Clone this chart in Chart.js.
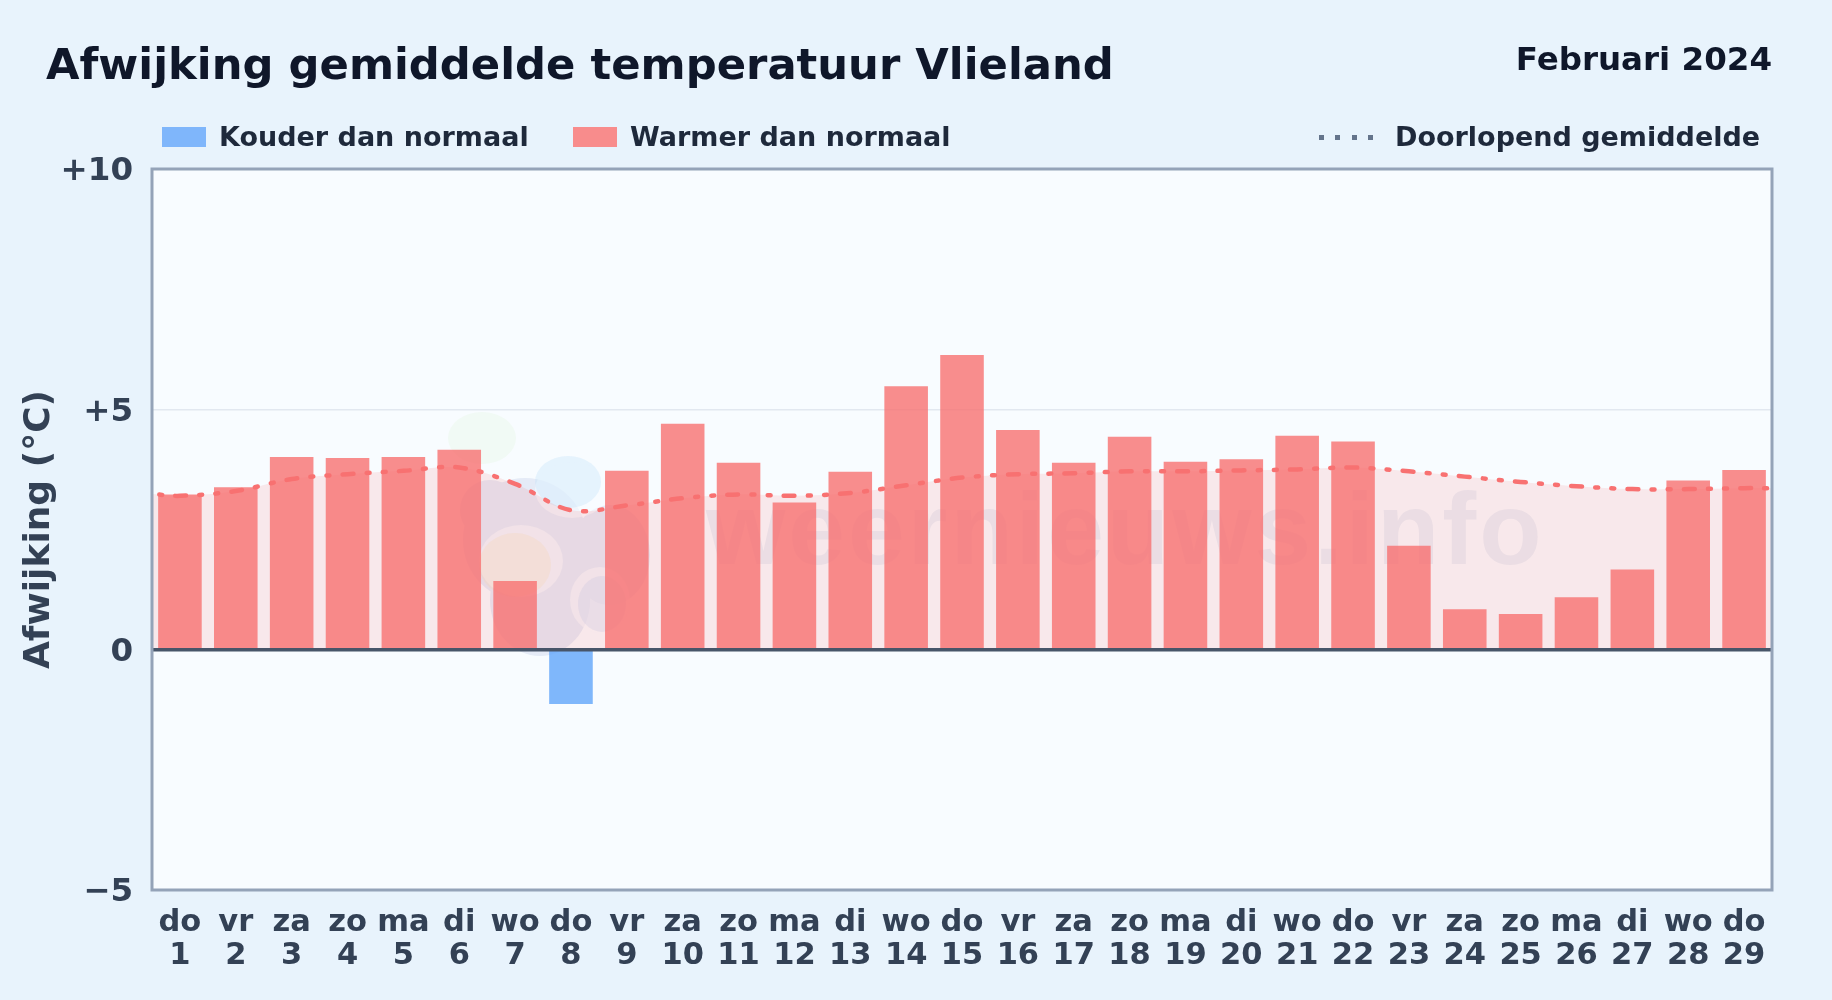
<!DOCTYPE html>
<html>
<head>
<meta charset="utf-8">
<script src="https://cdn.jsdelivr.net/npm/chart.js@4"></script>
<style>
  html, body { margin: 0; padding: 0; }
  body {
    width: 1832px; height: 1000px; position: relative; overflow: hidden;
    background: #e8f3fc;
    font-family: "DejaVu Sans", sans-serif; font-weight: bold;
  }
  #title { position: absolute; left: 46px; top: 39px; font-size: 43.3px; color: #0f172a; white-space: nowrap; }
  #period { position: absolute; right: 60px; top: 40px; font-size: 32.5px; color: #0f172a; white-space: nowrap; }
  .leg { position: absolute; top: 121px; font-size: 27px; line-height: 32px; color: #1e293b; white-space: nowrap; }
  .swatch { position: absolute; top: 6px; left: -57px; width: 44px; height: 20px; }
  .dots {
    position: absolute; top: 14px; left: -76px; width: 56px; height: 5px;
    background: repeating-linear-gradient(90deg, #64748b 0 5px, transparent 5px 16.5px);
  }
  #chart-wrap { position: absolute; left: 0; top: 0; width: 1832px; height: 1000px; }
</style>
</head>
<body>
<div id="chart-wrap"><canvas id="chart"></canvas></div>
<div id="title">Afwijking gemiddelde temperatuur Vlieland</div>
<div id="period">Februari 2024</div>
<div class="leg" style="left:219px"><span class="swatch" style="background:#7fb6fb"></span>Kouder dan normaal</div>
<div class="leg" style="left:630px"><span class="swatch" style="background:#f88c8c"></span>Warmer dan normaal</div>
<div class="leg" style="left:1395px"><span class="dots"></span>Doorlopend gemiddelde</div>
<script>
const weekdays = ['do','vr','za','zo','ma','di','wo','do','vr','za','zo','ma','di','wo','do','vr','za','zo','ma','di','wo','do','vr','za','zo','ma','di','wo','do'];
const days = [1,2,3,4,5,6,7,8,9,10,11,12,13,14,15,16,17,18,19,20,21,22,23,24,25,26,27,28,29];
const anomaly = [3.23,3.38,4.01,3.99,4.01,4.16,1.43,-1.13,3.72,4.70,3.89,3.06,3.70,5.48,6.13,4.57,3.89,4.43,3.91,3.96,4.45,4.33,2.16,0.84,0.74,1.09,1.67,3.52,3.74];
// running mean runs edge to edge of the plot, so it gets its own x positions
const meanX = [0.5,1,2,3,4,5,6,7,8,9,10,11,12,13,14,15,16,17,18,19,20,21,22,23,24,25,26,27,28,29,29.5];
const meanY = [3.24,3.2,3.3,3.55,3.65,3.72,3.79,3.45,2.9,3.0,3.15,3.23,3.2,3.26,3.42,3.58,3.65,3.67,3.71,3.71,3.73,3.75,3.79,3.71,3.6,3.49,3.4,3.34,3.34,3.36,3.36];
const yTicks = [-5,0,5,10];

const RED = 'rgba(248,113,113,0.8)';
const BLUE = 'rgba(96,165,250,0.8)';

const meanPoints = meanX.map((x, i) => ({ x, y: meanY[i] }));

// logo blobs of the watermark, in page pixels
function blob(ctx, color, shapes) {
  ctx.fillStyle = color;
  ctx.beginPath();
  for (const [x, y, rx, ry] of shapes) {
    ctx.moveTo(x + rx, y);
    ctx.ellipse(x, y, rx, ry, 0, 0, Math.PI * 2);
  }
  ctx.fill();
}

// plot background and watermark go under the datasets, zero line and border on top
const backdrop = {
  id: 'backdrop',
  beforeDraw(chart) {
    const { ctx, chartArea: a } = chart;
    ctx.save();
    ctx.fillStyle = '#f8fcff';
    ctx.fillRect(a.left, a.top, a.width, a.height);
    ctx.restore();
  },
  beforeDatasetsDraw(chart) {
    const { ctx } = chart;
    ctx.save();
    blob(ctx, 'rgba(100,125,190,0.13)', [[525,540,62,62],[540,600,50,56],[610,555,40,50],[490,510,30,30]]);
    blob(ctx, 'rgba(248,252,255,0.6)', [[521,561,42,36],[600,600,30,33],[572,490,37,28]]);
    blob(ctx, 'rgba(195,235,170,0.12)', [[482,438,34,26]]);
    blob(ctx, 'rgba(190,225,250,0.32)', [[568,482,33,26]]);
    blob(ctx, 'rgba(250,225,170,0.22)', [[515,565,36,32]]);
    blob(ctx, 'rgba(170,190,235,0.2)', [[602,604,24,28]]);
    ctx.fillStyle = 'rgba(60,90,150,0.08)';
    ctx.font = 'bold 102px "Liberation Sans", sans-serif';
    ctx.letterSpacing = '3px';
    ctx.textBaseline = 'alphabetic';
    ctx.textAlign = 'left';
    ctx.fillText('weernieuws.info', 706, 564);
    ctx.restore();
  },
  afterDatasetsDraw(chart) {
    const { ctx, chartArea: a, scales } = chart;
    const y0 = scales.y.getPixelForValue(0);
    ctx.save();
    ctx.strokeStyle = '#475569';
    ctx.lineWidth = 3.5;
    ctx.beginPath();
    ctx.moveTo(a.left, y0);
    ctx.lineTo(a.right, y0);
    ctx.stroke();
    ctx.strokeStyle = '#94a3b8';
    ctx.lineWidth = 3;
    ctx.strokeRect(a.left, a.top, a.width, a.height);
    ctx.restore();
  },
};

new Chart(document.getElementById('chart'), {
  type: 'bar',
  data: {
    labels: days.map((d, i) => [weekdays[i], String(d)]),
    datasets: [
      {
        type: 'line',
        xAxisID: 'xMean',
        data: meanPoints,
        borderWidth: 0,
        backgroundColor: 'rgba(248,113,113,0.14)',
        fill: 'origin',
        pointRadius: 0,
        tension: 0.35,
        order: 3,
      },
      {
        data: anomaly,
        backgroundColor: anomaly.map(v => v < 0 ? BLUE : RED),
        borderWidth: 0,
        barPercentage: 0.78,
        categoryPercentage: 1,
        grouped: false,
        order: 2,
      },
      {
        type: 'line',
        xAxisID: 'xMean',
        data: meanPoints,
        borderColor: '#f87171',
        borderWidth: 4.5,
        borderCapStyle: 'round',
        borderDash: [10.5, 13.2, 3, 13.5, 3, 13.2],
        borderDashOffset: 33,
        fill: false,
        pointRadius: 0,
        tension: 0.35,
        order: 1,
      },
    ],
  },
  options: {
    responsive: true,
    maintainAspectRatio: false,
    animation: false,
    layout: { padding: { left: 0, right: 60, top: 169, bottom: 0 } },
    plugins: { legend: { display: false }, tooltip: { enabled: false } },
    scales: {
      x: {
        offset: true,
        grid: { display: false },
        border: { display: false },
        afterFit(axis) { axis.height = 110; },
        ticks: {
          color: '#334155', autoSkip: false, maxRotation: 0, padding: 9,
          font: { size: 30.5, weight: 'bold', family: '"DejaVu Sans"', lineHeight: 1.08 },
        },
      },
      xMean: { type: 'linear', min: 0.5, max: 29.5, display: false, offset: false },
      y: {
        min: -5,
        max: 10,
        afterBuildTicks(axis) { axis.ticks = yTicks.map(value => ({ value })); },
        afterFit(axis) { axis.width = 152; },
        title: {
          display: true, text: 'Afwijking (°C)', color: '#334155', padding: { top: 18, bottom: 0 },
          font: { size: 36, weight: 'bold', family: '"DejaVu Sans"' },
        },
        grid: {
          drawTicks: false,
          color: c => c.tick.value === 5 ? '#e2e8f0' : 'transparent',
          lineWidth: 1.5,
        },
        border: { display: false },
        ticks: {
          color: '#334155', padding: 19, labelOffset: 3,
          font: { size: 32.5, weight: 'bold', family: '"DejaVu Sans"' },
          callback: v => v > 0 ? '+' + v : v < 0 ? '\u2212' + Math.abs(v) : '0',
        },
      },
    },
  },
  plugins: [backdrop],
});
</script>
</body>
</html>
